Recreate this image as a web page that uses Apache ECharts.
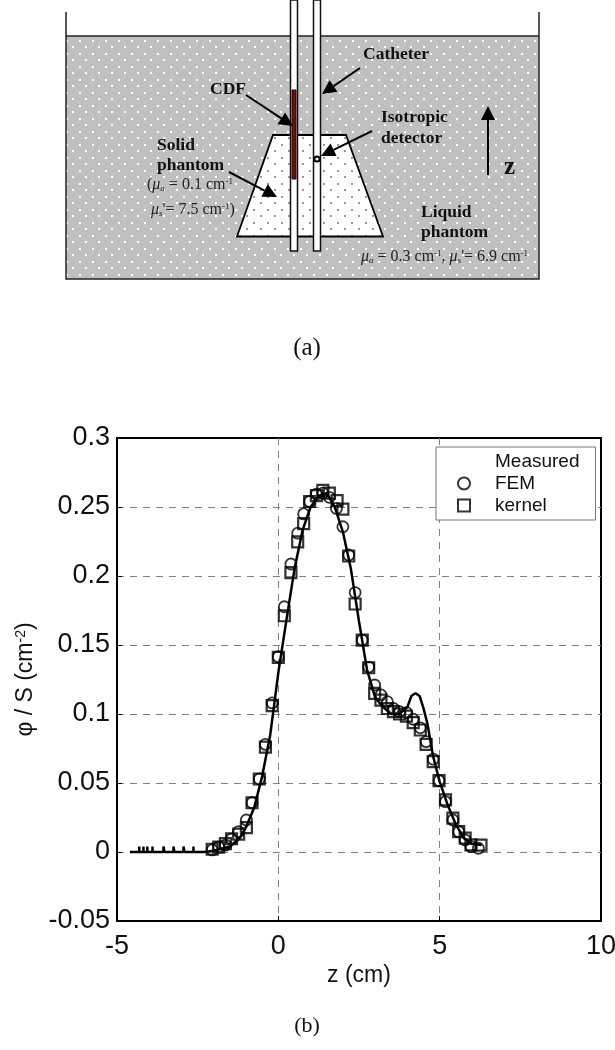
<!DOCTYPE html>
<html>
<head>
<meta charset="utf-8">
<style>
  html, body { margin: 0; padding: 0; background: #fff; }
  #main { width: 615px; height: 1050px; }
</style>
<script src="https://cdn.jsdelivr.net/npm/echarts@6/dist/echarts.min.js"></script>
</head>
<body>
<div id="main"></div>
<script>
// values
const measuredZ = [-4.6, -4.31, -4.31, -4.31, -4.18, -4.18, -4.18, -4.06, -4.06, -4.06, -3.9, -3.9, -3.9, -3.56, -3.56, -3.53, -3.53, -3.25, -3.25, -3.22, -3.22, -2.94, -2.94, -2.91, -2.91, -2.63, -2.63, -2.63, -2.3, -2, -1.5, -1.2, -1, -0.75, -0.5, -0.25, 0, 0.25, 0.5, 0.75, 1, 1.25, 1.5, 1.75, 2, 2.25, 2.5, 2.75, 3, 3.25, 3.5, 3.75, 4, 4.12, 4.25, 4.38, 4.5, 4.62, 4.8, 5, 5.25, 5.5, 5.75, 6, 6.3];
const measuredV = [0, 0, 0.004, 0, 0, 0.004, 0, 0, 0.004, 0, 0, 0.004, 0, 0, 0.004, 0.004, 0, 0, 0.004, 0.004, 0, 0, 0.004, 0.004, 0, 0, 0.004, 0, 0, 0.001, 0.004, 0.01, 0.018, 0.032, 0.055, 0.085, 0.13, 0.168, 0.205, 0.233, 0.25, 0.258, 0.26, 0.25, 0.232, 0.205, 0.167, 0.132, 0.112, 0.105, 0.1, 0.1, 0.105, 0.113, 0.115, 0.113, 0.104, 0.093, 0.069, 0.051, 0.034, 0.02, 0.01, 0.006, 0.005];

const femZ = [-2.05, -1.85, -1.64, -1.45, -1.23, -0.99, -0.815, -0.59, -0.4, -0.19, 0, 0.186, 0.39, 0.6, 0.785, 0.97, 1.18, 1.38, 1.58, 1.8, 2, 2.18, 2.38, 2.6, 2.8, 2.985, 3.18, 3.38, 3.57, 3.76, 3.97, 4.18, 4.4, 4.58, 4.8, 4.98, 5.18, 5.41, 5.59, 5.79, 5.97, 6.2];
const femV = [0.0015, 0.0036, 0.005, 0.0094, 0.0147, 0.0232, 0.0357, 0.0529, 0.078, 0.108, 0.1415, 0.1777, 0.2087, 0.231, 0.245, 0.254, 0.2594, 0.26, 0.257, 0.249, 0.2357, 0.2152, 0.188, 0.1536, 0.134, 0.121, 0.1138, 0.1089, 0.104, 0.1017, 0.101, 0.0962, 0.09, 0.08, 0.0673, 0.0517, 0.0365, 0.0232, 0.0147, 0.0087, 0.0039, 0.0027];

const kernelZ = [-2.05, -1.85, -1.64, -1.45, -1.23, -0.99, -0.815, -0.59, -0.4, -0.19, 0, 0.186, 0.39, 0.6, 0.785, 0.97, 1.18, 1.38, 1.58, 1.82, 2, 2.18, 2.38, 2.6, 2.8, 2.985, 3.18, 3.38, 3.57, 3.76, 3.97, 4.18, 4.4, 4.58, 4.8, 4.98, 5.18, 5.41, 5.59, 5.79, 5.97, 6.28];
const kernelV = [0.002, 0.0035, 0.006, 0.0096, 0.013, 0.0176, 0.0357, 0.0529, 0.076, 0.106, 0.141, 0.1712, 0.2025, 0.2247, 0.238, 0.254, 0.2583, 0.262, 0.26, 0.2546, 0.2485, 0.2145, 0.1797, 0.1536, 0.1335, 0.115, 0.11, 0.104, 0.1017, 0.1, 0.0985, 0.0937, 0.0884, 0.078, 0.0655, 0.0517, 0.0377, 0.0246, 0.0147, 0.0101, 0.0051, 0.005];

const xTicks = { min: -5, max: 10, interval: 5 };
const yTicks = { min: -0.05, max: 0.3, interval: 0.05 };

const pairs = (a, b) => a.map((v, i) => [v, b[i]]);

// small tile used as the dotted fill of the two phantoms
function dotTile(w, h, bg, dot) {
  const c = document.createElement('canvas');
  c.width = w;
  c.height = h;
  const g = c.getContext('2d');
  g.fillStyle = bg;
  g.fillRect(0, 0, w, h);
  g.fillStyle = dot;
  g.fillRect(1, 1, 2, 2);
  g.fillRect(1 + Math.floor(w / 2), 1 + Math.floor(h / 2), 2, 2);
  return { image: c, repeat: 'repeat' };
}

function arrow(x1, y1, x2, y2) {
  const a = Math.atan2(y2 - y1, x2 - x1);
  const len = 14, wide = 7;
  const bx = x2 - len * Math.cos(a), by = y2 - len * Math.sin(a);
  const nx = -Math.sin(a) * wide, ny = Math.cos(a) * wide;
  return [
    { type: 'line', shape: { x1: x1, y1: y1, x2: bx, y2: by }, style: { stroke: '#000', lineWidth: 2 } },
    { type: 'polygon', shape: { points: [[x2, y2], [bx + nx, by + ny], [bx - nx, by - ny]] }, style: { fill: '#000' } }
  ];
}

function label(text, x, y) {
  return {
    type: 'text', x: x, y: y,
    style: { text: text, fill: '#111', verticalAlign: 'middle', font: 'bold 17.5px "Liberation Serif"' }
  };
}

function mu(text, x, y) {
  return {
    type: 'text', x: x, y: y,
    style: {
      text: text, fill: '#222', verticalAlign: 'middle',
      font: '16px "Liberation Serif"',
      rich: {
        m: { font: 'italic 16px "Liberation Serif"', fill: '#222' },
        sub: { font: 'italic 9px "Liberation Serif"', fill: '#222', verticalAlign: 'bottom', padding: [7, 0, 0, 0] },
        sup: { font: '9px "Liberation Serif"', fill: '#222', verticalAlign: 'top', padding: [0, 0, 7, 0] },
        t: { font: '16px "Liberation Serif"', fill: '#222' }
      }
    }
  };
}

function tube(x) {
  return {
    type: 'rect', shape: { x: x, y: 0, width: 7, height: 251 },
    style: { fill: '#fff', stroke: '#111', lineWidth: 1.5 }
  };
}

const schematic = [
  { type: 'rect', shape: { x: 66, y: 36, width: 473, height: 243 }, style: { fill: dotTile(13, 13, '#c0c0c0', '#ffffff') } },
  { type: 'polyline', shape: { points: [[66, 12], [66, 279], [539, 279], [539, 12]] }, style: { fill: 'none', stroke: '#222', lineWidth: 1.5 } },
  { type: 'line', shape: { x1: 66, y1: 36, x2: 539, y2: 36 }, style: { stroke: '#222', lineWidth: 1.5 } },
  {
    type: 'polygon',
    shape: { points: [[273, 135], [346, 135], [383, 236.5], [237, 236.5]] },
    style: { fill: dotTile(14, 13, '#ffffff', '#999999'), stroke: '#000', lineWidth: 1.8 }
  },
  tube(290.5),
  tube(313.5),
  { type: 'rect', shape: { x: 292, y: 90, width: 4, height: 89 }, style: { fill: '#7a0c0c', stroke: '#111', lineWidth: 1 } },
  { type: 'circle', shape: { cx: 317, cy: 159, r: 2.6 }, style: { fill: '#fff', stroke: '#000', lineWidth: 2 } },
  ...arrow(246, 95, 293, 126),
  ...arrow(360, 68, 322, 94),
  ...arrow(372, 131, 321, 156),
  ...arrow(229, 172, 277, 197),
  ...arrow(488, 175, 488, 106),
  label('Catheter', 363, 54),
  label('CDF', 210, 89),
  label('Isotropic', 381, 117),
  label('detector', 381, 138),
  label('Solid', 157, 145),
  label('phantom', 157, 165),
  label('Liquid', 421, 212),
  label('phantom', 421, 232),
  { type: 'text', x: 504, y: 168, style: { text: 'z', fill: '#111', font: 'bold 25px "Liberation Serif"', verticalAlign: 'middle' } },
  mu('{t|(}{m|μ}{sub|a}{t| = 0.1 cm}{sup|-1}', 147, 185),
  mu("{m|μ}{sub|s}{t|'= 7.5 cm}{sup|-1}{t|)}", 151, 210),
  mu("{m|μ}{sub|a}{t| = 0.3 cm}{sup|-1}{t|, }{m|μ}{sub|s}{t|'= 6.9 cm}{sup|-1}", 361, 257),
  { type: 'text', x: 307, y: 348, style: { text: '(a)', fill: '#111', font: '25px "Liberation Serif"', align: 'center', verticalAlign: 'middle' } },
  { type: 'text', x: 307, y: 1026, style: { text: '(b)', fill: '#111', font: '22px "Liberation Serif"', align: 'center', verticalAlign: 'middle' } }
];

const gridLine = { color: '#808080', type: [7, 6], width: 1 };
const chart = echarts.init(document.getElementById('main'));
chart.setOption({
  animation: false,
  backgroundColor: '#fff',
  textStyle: { fontFamily: '"Liberation Sans"' },
  graphic: { elements: schematic },
  grid: {
    left: 117, right: 14, top: 438, bottom: 129,
    outerBoundsMode: 'none',
    show: true, borderColor: '#000', borderWidth: 2, backgroundColor: 'transparent'
  },
  legend: {
    left: 436, top: 447, orient: 'vertical',
    itemWidth: 36, itemHeight: 12, itemGap: 3,
    padding: [5, 16, 5, 10],
    backgroundColor: '#fff', borderColor: '#777', borderWidth: 1,
    textStyle: { fontSize: 19, color: '#111', padding: [0, 0, 0, 8] },
    data: [
      { name: 'Measured', icon: 'none' },
      { name: 'FEM', icon: 'circle' },
      { name: 'kernel', icon: 'path://M0,0H10V10H0Z' }
    ]
  },
  xAxis: {
    type: 'value', ...xTicks,
    name: 'z (cm)', nameLocation: 'middle', nameGap: 43,
    nameTextStyle: { fontSize: 23, color: '#111' },
    axisLine: { onZero: false, lineStyle: { color: '#000', width: 2 } },
    axisTick: { inside: true, length: 5, lineStyle: { color: '#000' } },
    axisLabel: { fontSize: 27, color: '#111', margin: 12 },
    splitLine: { show: true, showMinLine: false, showMaxLine: false, lineStyle: gridLine }
  },
  yAxis: {
    type: 'value', ...yTicks,
    name: '{a|φ / S (cm}{b|-2}{a|)}', nameLocation: 'middle', nameGap: 74,
    nameTextStyle: {
      rich: {
        a: { fontSize: 23, color: '#111', fontFamily: '"Liberation Sans"' },
        b: { fontSize: 14, color: '#111', fontFamily: '"Liberation Sans"', verticalAlign: 'top' }
      }
    },
    axisLine: { onZero: false, lineStyle: { color: '#000', width: 2 } },
    axisTick: { inside: true, length: 5, lineStyle: { color: '#000' } },
    axisLabel: { fontSize: 27, color: '#111', margin: 7 },
    splitLine: { show: true, showMinLine: false, showMaxLine: false, lineStyle: gridLine }
  },
  series: [
    {
      name: 'Measured', type: 'line', data: pairs(measuredZ, measuredV),
      symbol: 'none', lineStyle: { color: '#000', width: 2.5 }, itemStyle: { color: '#000' }
    },
    {
      name: 'FEM', type: 'scatter', data: pairs(femZ, femV),
      symbol: 'circle', symbolSize: 11,
      itemStyle: { color: 'rgba(255,255,255,0)', borderColor: '#000', borderWidth: 1.8 }
    },
    {
      name: 'kernel', type: 'scatter', data: pairs(kernelZ, kernelV),
      symbol: 'rect', symbolSize: 11,
      itemStyle: { color: 'rgba(255,255,255,0)', borderColor: '#000', borderWidth: 2.2 }
    }
  ]
});
</script>
</body>
</html>
